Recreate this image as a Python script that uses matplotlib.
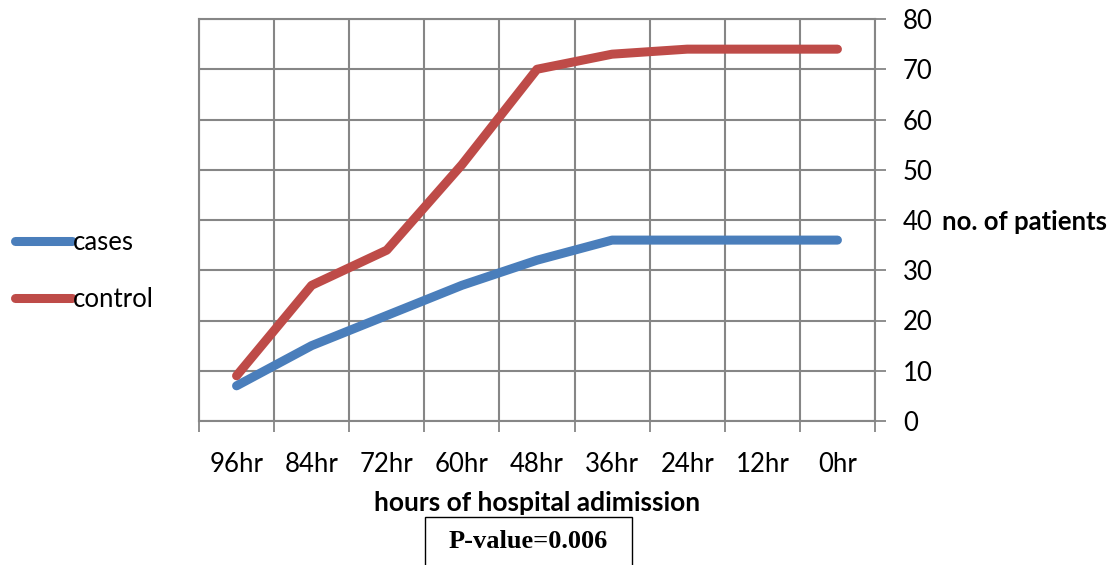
import numpy as np
import matplotlib
matplotlib.use("Agg")
from matplotlib import pyplot as plt
from matplotlib.patches import Rectangle

# data
hours = ["96hr", "84hr", "72hr", "60hr", "48hr", "36hr", "24hr", "12hr", "0hr"]
cases = [7, 15, 21, 27, 32, 36, 36, 36, 36]
control = [9, 27, 34, 51, 70, 73, 74, 74, 74]
y_ticks = [0, 10, 20, 30, 40, 50, 60, 70, 80]

BLUE = "#4A7EBB"
RED = "#BE4B48"
GRID = "#868686"

plt.rcParams['font.family'] = ['Lato', 'DejaVu Sans']

fig = plt.figure(figsize=(11.16, 5.65), dpi=100)
ax = fig.add_axes([199 / 1116, 1 - 421 / 565, 676 / 1116, 402 / 565])

x = np.arange(len(hours))
ax.plot(x, cases, color=BLUE, lw=6.5, solid_capstyle='round', solid_joinstyle='round', label="cases", zorder=3)
ax.plot(x, control, color=RED, lw=6.5, solid_capstyle='round', solid_joinstyle='round', label="control", zorder=3)

ax.set_xlim(-0.5, len(hours) - 0.5)
ax.set_ylim(0, 80)

# x: labels in category centres, ticks + grid on boundaries
ax.set_xticks(x)
ax.set_xticklabels(hours, fontsize=18.5)
ax.set_xticks(np.arange(-0.5, len(hours)), minor=True)
ax.tick_params(axis='x', which='major', length=0, pad=22)
ax.tick_params(axis='x', which='minor', length=8, width=1.3, color=GRID, direction='out')
ax.grid(True, axis='x', which='minor', color=GRID, lw=1.5)

# y on the right
ax.yaxis.tick_right()
ax.set_yticks(y_ticks)
ax.set_yticklabels([str(v) for v in y_ticks], fontsize=18.5)
ax.tick_params(axis='y', length=8, width=1.3, color=GRID, pad=12)
ax.grid(True, axis='y', color=GRID, lw=1.5)
ax.set_axisbelow(True)

for s in ax.spines.values():
    s.set_color(GRID)
    s.set_linewidth(1.5)

fig.text(942 / 1116, 1 - 222 / 565, "no. of patients", fontsize=18.5, fontweight='bold', va='center', ha='left')
fig.text(537 / 1116, 1 - 503 / 565, "hours of hospital adimission", fontsize=19, fontweight='bold', va='center', ha='center')

fig.legend(loc='center left', bbox_to_anchor=(0.0, 1 - 271 / 565), frameon=False,
           fontsize=18.5, handlelength=2.2, handletextpad=0.05, labelspacing=1.25, borderaxespad=0.2)

fig.patches.append(Rectangle((425 / 1116, -0.02), 207 / 1116, 0.02 + 1 - 517 / 565,
                             transform=fig.transFigure, fill=False, ec='black', lw=1))
fig.text(528 / 1116, 1 - 542 / 565, "P-value=0.006", fontsize=19, fontweight='bold',
         family=['Liberation Serif'], ha='center', va='center')

fig.savefig("out.png", dpi=100)
